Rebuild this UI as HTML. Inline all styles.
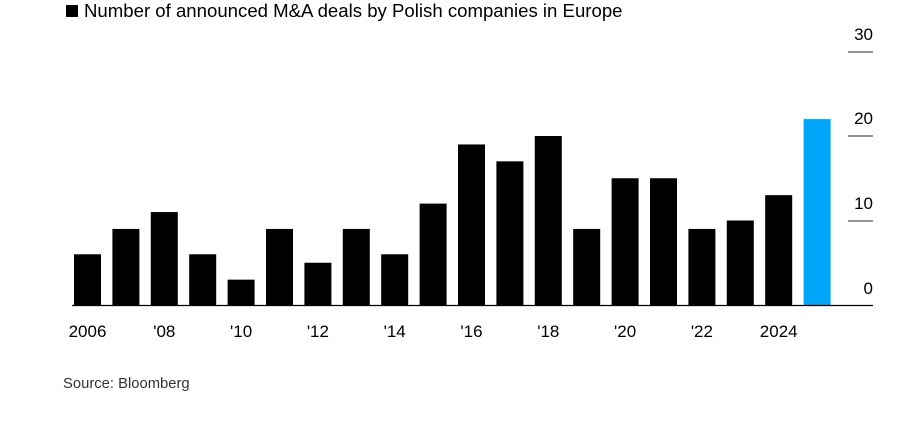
<!DOCTYPE html><html><head><style>body{margin:0;background:#fff}</style></head><body>
<svg width="900" height="417" xmlns="http://www.w3.org/2000/svg" font-family="Liberation Sans, Arial, sans-serif">
<rect x="66" y="5" width="12" height="12" fill="#000"/>
<text x="84" y="17" font-size="18.6" fill="#000">Number of announced M&amp;A deals by Polish companies in Europe</text>
<g stroke="#555" stroke-width="1.3">
<line x1="848" y1="52" x2="873" y2="52"/><line x1="848" y1="136" x2="873" y2="136"/><line x1="848" y1="221" x2="873" y2="221"/>
</g>
<g font-size="17" text-anchor="end" fill="#000">
<text x="873" y="40">30</text><text x="873" y="124">20</text><text x="873" y="209">10</text><text x="873" y="294">0</text>
</g>
<g fill="#000">
<rect x="74" y="254.3" width="27" height="50.7"/>
<rect x="112.4" y="228.95" width="27" height="76.05"/>
<rect x="150.8" y="212.05" width="27" height="92.95"/>
<rect x="189.2" y="254.3" width="27" height="50.7"/>
<rect x="227.6" y="279.65" width="27" height="25.35"/>
<rect x="266" y="228.95" width="27" height="76.05"/>
<rect x="304.4" y="262.75" width="27" height="42.25"/>
<rect x="342.8" y="228.95" width="27" height="76.05"/>
<rect x="381.2" y="254.3" width="27" height="50.7"/>
<rect x="419.6" y="203.6" width="27" height="101.4"/>
<rect x="458" y="144.45" width="27" height="160.55"/>
<rect x="496.4" y="161.35" width="27" height="143.65"/>
<rect x="534.8" y="136" width="27" height="169"/>
<rect x="573.2" y="228.95" width="27" height="76.05"/>
<rect x="611.6" y="178.25" width="27" height="126.75"/>
<rect x="650" y="178.25" width="27" height="126.75"/>
<rect x="688.4" y="228.95" width="27" height="76.05"/>
<rect x="726.8" y="220.5" width="27" height="84.5"/>
<rect x="765.2" y="195.15" width="27" height="109.85"/>
</g>
<rect x="803.6" y="119.1" width="27" height="185.9" fill="#00a6f8"/>
<line x1="72" y1="305.5" x2="873" y2="305.5" stroke="#000" stroke-width="1.3"/>
<g font-size="17" text-anchor="middle" fill="#000">
<text x="87.5" y="337">2006</text><text x="164.3" y="337">'08</text><text x="241.1" y="337">'10</text><text x="317.9" y="337">'12</text><text x="394.7" y="337">'14</text><text x="471.5" y="337">'16</text><text x="548.3" y="337">'18</text><text x="625.1" y="337">'20</text><text x="701.9" y="337">'22</text><text x="778.7" y="337">2024</text>
</g>
<text x="63" y="388" font-size="14.8" fill="#333">Source: Bloomberg</text>
</svg></body></html>
